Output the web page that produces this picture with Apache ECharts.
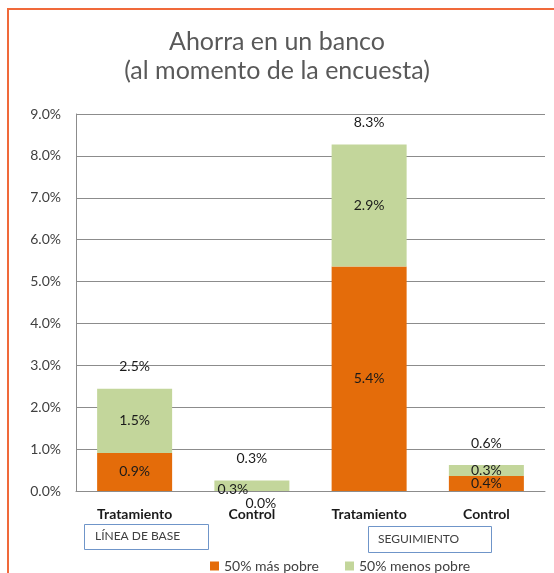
<!DOCTYPE html>
<html>
<head>
<meta charset="utf-8">
<title>Ahorra en un banco</title>
<script src="https://cdn.jsdelivr.net/npm/echarts@6/dist/echarts.min.js"></script>
<style>
html,body{margin:0;padding:0;background:#fff;}
#chart{width:554px;height:573px;}
</style>
</head>
<body>
<div id="chart"></div>
<script>
// categorias y valores (en %)
var categorias = ['Tratamiento', 'Control', 'Tratamiento', 'Control'];
var masPobre = [0.91, 0.0, 5.36, 0.36];
var menosPobre = [1.53, 0.25, 2.91, 0.26];
var totales = [2.5, 0.3, 8.3, 0.6];
var yTicks = [0, 1, 2, 3, 4, 5, 6, 7, 8, 9];

var fuente = 'Lato';
var chart = echarts.init(document.getElementById('chart'));

function etiqueta(p) {
  return p.value.toFixed(1) + '%';
}

var datosNaranja = masPobre.map(function (v, i) {
  if (i == 1) return { value: v, label: { offset: [9, 12] } };
  return v;
});
var datosVerde = menosPobre.map(function (v, i) {
  if (i == 1) return { value: v, label: { offset: [-19, 4] } };
  return v;
});

var option = {
  animation: false,
  backgroundColor: '#fff',
  title: {
    text: 'Ahorra en un banco\n(al momento de la encuesta)',
    left: 'center',
    top: 22,
    textStyle: { fontFamily: fuente, fontSize: 25, fontWeight: 'normal', color: '#595959', lineHeight: 29 }
  },
  legend: {
    data: ['50% más pobre', '50% menos pobre'],
    left: 205,
    top: 554,
    icon: 'rect',
    itemWidth: 9,
    itemHeight: 9,
    itemGap: 26,
    textStyle: { fontFamily: fuente, fontSize: 14, color: '#404040' }
  },
  grid: { left: 76, right: 9, top: 114, bottom: 82 },
  xAxis: {
    type: 'category',
    data: categorias,
    axisTick: { show: false },
    axisLine: { lineStyle: { color: '#8c8c8c' } },
    axisLabel: { margin: 16, fontFamily: fuente, fontSize: 14, fontWeight: 'bold', color: '#1a1a1a' }
  },
  yAxis: {
    type: 'value',
    min: yTicks[0],
    max: yTicks[yTicks.length - 1],
    interval: 1,
    axisLine: { show: true, lineStyle: { color: '#8c8c8c' } },
    axisTick: { show: false },
    splitLine: { lineStyle: { color: '#8c8c8c' } },
    axisLabel: {
      margin: 15, fontFamily: fuente, fontSize: 14, color: '#404040',
      formatter: function (v) { return v.toFixed(1) + '%'; }
    }
  },
  series: [
    {
      name: '50% más pobre',
      type: 'bar',
      stack: 'a',
      barWidth: 75,
      itemStyle: { color: '#E46C0A' },
      label: { show: true, position: 'inside', formatter: etiqueta, fontFamily: fuente, fontSize: 14, color: '#1a1a1a' },
      data: datosNaranja
    },
    {
      name: '50% menos pobre',
      type: 'bar',
      stack: 'a',
      barWidth: 75,
      itemStyle: { color: '#C3D69B' },
      label: { show: true, position: 'inside', formatter: etiqueta, fontFamily: fuente, fontSize: 14, color: '#1a1a1a' },
      data: datosVerde
    },
    {
      name: 'total',
      type: 'bar',
      stack: 'a',
      barWidth: 75,
      silent: true,
      itemStyle: { color: 'transparent' },
      label: {
        show: true, position: 'top', distance: 15,
        formatter: function (p) { return totales[p.dataIndex].toFixed(1) + '%'; },
        fontFamily: fuente, fontSize: 14, color: '#1a1a1a'
      },
      data: totales.map(function () { return 0; })
    }
  ],
  graphic: [
    {
      type: 'rect', silent: true,
      shape: { x: 8, y: 9, width: 600, height: 600 },
      style: { fill: 'none', stroke: '#F0693A', lineWidth: 2 }
    },
    {
      type: 'rect', silent: true,
      shape: { x: 84.5, y: 524.5, width: 124, height: 25 },
      style: { fill: '#fff', stroke: '#6F95C9', lineWidth: 1 }
    },
    {
      type: 'text', silent: true, left: 95, top: 530,
      style: { text: 'LÍNEA DE BASE', font: '12px Lato', fill: '#404040' }
    },
    {
      type: 'rect', silent: true,
      shape: { x: 368.5, y: 526.5, width: 123, height: 26 },
      style: { fill: '#fff', stroke: '#6F95C9', lineWidth: 1 }
    },
    {
      type: 'text', silent: true, left: 378, top: 533,
      style: { text: 'SEGUIMIENTO', font: '12px Lato', fill: '#404040' }
    }
  ]
};

chart.setOption(option);
</script>
</body>
</html>
